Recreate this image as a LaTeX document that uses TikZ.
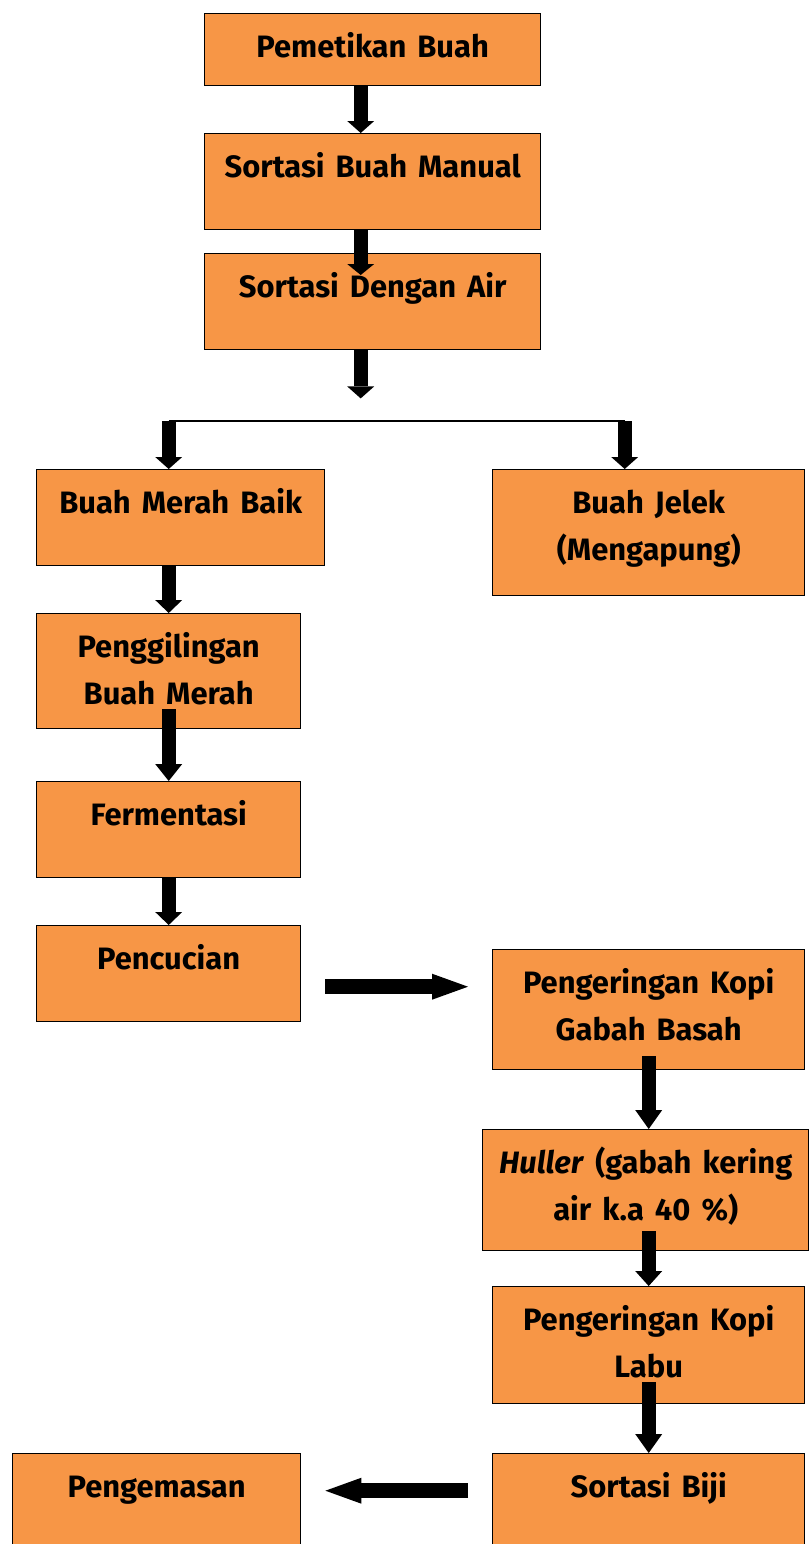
\documentclass[tikz,border=0pt]{standalone}
\usepackage{fontspec}
\setmainfont{Fira Sans}[WordSpace=1.5]
\usetikzlibrary{arrows.meta}

\definecolor{oranye}{RGB}{247,150,70}
\newdimen\satuan \satuan=0.02cm
\newcommand{\isikotak}[3]{\parbox[t][#2\satuan][t]{#1\satuan}{\centering\rule{0pt}{44\satuan}#3}}

\tikzset{
    kotak/.style={draw, line width=0.8pt, fill=oranye, inner sep=0pt, anchor=north west,
        font=\fontsize{17.6}{26.7}\selectfont\bfseries},
    panah/.style={line width=0.28cm, -{Triangle[width=0.54cm, length=#1, line width=0pt]}},
    panah/.default=0.26cm,
    panahdatar/.style={line width=0.3cm, -{Triangle[width=0.52cm, length=0.72cm, line width=0pt]}}
}

\begin{document}
\begin{tikzpicture}[x=0.02cm, y=-0.02cm]
    \useasboundingbox (0,0) rectangle (809,1544);
    \clip (0,0) rectangle (809,1544);

    % Define nodes for the process steps
    \node[kotak] (petik) at (204,13) {\isikotak{336}{72}{Pemetikan Buah}};
    \node[kotak] (manual) at (204,133) {\isikotak{336}{96}{Sortasi Buah Manual}};
    \node[kotak] (air) at (204,253) {\isikotak{336}{96}{Sortasi Dengan Air}};

    \node[kotak] (baik) at (36,469) {\isikotak{288}{96}{Buah Merah Baik}};
    \node[kotak] (jelek) at (492,469) {\isikotak{312}{126}{Buah Jelek\\(Mengapung)}};
    \node[kotak] (giling) at (36,613) {\isikotak{264}{115}{Penggilingan\\Buah Merah}};
    \node[kotak] (fermen) at (36,781) {\isikotak{264}{96}{Fermentasi}};
    \node[kotak] (cuci) at (36,925) {\isikotak{264}{96}{Pencucian}};

    \node[kotak] (kering) at (492,949) {\isikotak{312}{120}{Pengeringan Kopi\\Gabah Basah}};
    \node[kotak] (huller) at (482,1129) {\isikotak{326}{121}{\textit{Huller} (gabah kering\\air k.a 40 \%)}};
    \node[kotak] (labu) at (492,1286) {\isikotak{312}{117}{Pengeringan Kopi\\Labu}};
    \node[kotak] (biji) at (492,1453) {\isikotak{312}{100}{Sortasi Biji}};
    \node[kotak] (kemas) at (12,1453) {\isikotak{288}{100}{Pengemasan}};

    % Branch points
    \coordinate (cabang) at ([shift={(-12,48)}]air.south);
    \coordinate (kiri) at ([shift={(-12,-48)}]baik.north);
    \coordinate (kanan) at ([shift={(-24,-48)}]jelek.north);

    % Draw arrows
    \draw[panah=0.24cm] ([shift={(-12,0)}]petik.south) -- ([shift={(-12,0)}]manual.north);
    \draw[panah=0.22cm] ([shift={(-12,0)}]manual.south) -- ([shift={(-12,22)}]air.north);
    \draw[panah=0.24cm] ([shift={(-12,0)}]air.south) -- (cabang);
    \draw[line width=0.8pt] (kiri) -- (kanan);
    \draw[panah=0.24cm] (kiri) -- ([shift={(-12,0)}]baik.north);
    \draw[panah=0.24cm] (kanan) -- ([shift={(-24,0)}]jelek.north);
    \draw[panah] ([shift={(-12,0)}]baik.south) -- (giling.north);
    \draw[panah=0.34cm] ([shift={(0,-20)}]giling.south) -- (fermen.north);
    \draw[panah] (fermen.south) -- (cuci.north);
    \draw[panahdatar] ([shift={(24,13)}]cuci.east) -- ([shift={(-24,-23)}]kering.west);
    \draw[panah=0.38cm] ([shift={(0,-14)}]kering.south) -- ([shift={(3,0)}]huller.north);
    \draw[panah=0.3cm] ([shift={(3,-20)}]huller.south) -- (labu.north);
    \draw[panah=0.38cm] ([shift={(0,-22)}]labu.south) -- (biji.north);
    \draw[panahdatar] ([shift={(-24,-13)}]biji.west) -- ([shift={(24,-13)}]kemas.east);

\end{tikzpicture}
\end{document}
